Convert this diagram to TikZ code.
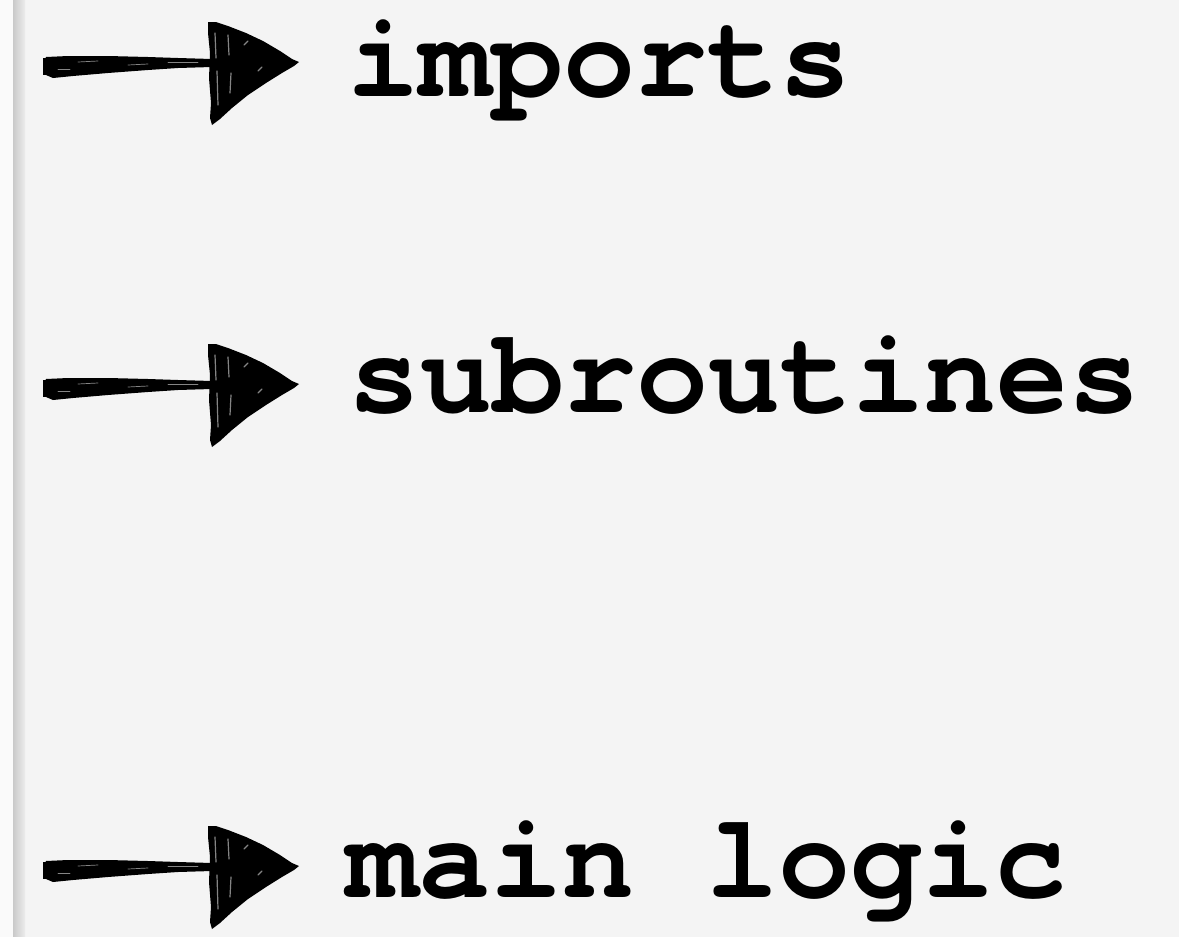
\documentclass[tikz,border=0pt]{standalone}
\usepackage{fontspec}
\newfontfamily\codefont{texgyrecursor-bold.otf}
\definecolor{bgcol}{HTML}{F4F4F4}
\definecolor{stripA}{HTML}{C9C9C9}
\definecolor{stripB}{HTML}{ECECEC}
\definecolor{edgecol}{HTML}{FAFAFA}
\tikzset{
  codelabel/.style={anchor=base west, inner sep=0pt, text=black,
    font=\codefont\fontsize{120}{120}\selectfont},
  streak/.style={draw=bgcol, opacity=0.55, line width=1.2pt, line cap=round},
  sketcharrow/.pic={
    % shaft
    \fill[black] (-254,-2) -- (-252,-6) -- (-230,-7) -- (-190,-7) -- (-150,-6)
      -- (-120,-5) -- (-86,-4) -- (-86,4) -- (-120,5) -- (-150,7) -- (-190,10)
      -- (-225,13) -- (-245,15) -- (-252,12) -- (-254,9) -- cycle;
    \fill[black] (-255,-5) rectangle (-249,12);
    % head
    \fill[black] (-90,-41) -- (-82,-41) -- (-70,-37) -- (-52,-30) -- (-35,-22)
      -- (-18,-12) -- (-6,-4) -- (1,-1) -- (-4,3) -- (-16,10) -- (-32,20)
      -- (-50,32) -- (-66,45) -- (-78,56) -- (-86,62) -- (-88,55) -- (-87,40)
      -- (-89,15) -- (-88,-10) -- (-90,-30) -- cycle;
    % texture streaks
    \draw[streak] (-83,-30) -- (-82,-5);
    \draw[streak] (-81,8) -- (-80,42);
    \draw[streak] (-70,-28) -- (-69,-8);
    \draw[streak] (-67,10) -- (-68,30);
    \draw[streak] (-54,-18) -- (-50,-22);
    \draw[streak] (-40,8) -- (-36,4);
    \draw[streak,line width=0.7pt] (-220,-1) -- (-200,-2);
    \draw[streak,line width=0.7pt] (-170,2) -- (-150,1);
    \draw[streak,line width=0.7pt] (-130,-1) -- (-100,-1);
    \draw[streak,line width=0.7pt] (-240,6) -- (-228,6);
  }
}
\begin{document}
\begin{tikzpicture}[x=1pt,y=-1pt]
  \useasboundingbox (0,0) rectangle (1179,937);
  \fill[bgcol] (0,0) rectangle (1179,937);
  \fill[edgecol] (0,0) rectangle (13,937);
  \shade[left color=stripA, right color=stripB] (13,0) rectangle (25,937);

  \coordinate (tip1) at (298,63);
  \coordinate (tip2) at (298,385);
  \coordinate (tip3) at (298,867);

  \pic at (tip1) {sketcharrow};
  \pic at (tip2) {sketcharrow};
  \pic at (tip3) {sketcharrow};

  \node[codelabel] (imports) at (347,96) {imports};
  \node[codelabel] (subroutines) at (348,412) {subroutines};
  \node[codelabel] (mainlogic) at (346,897) {main logic};
\end{tikzpicture}
\end{document}
